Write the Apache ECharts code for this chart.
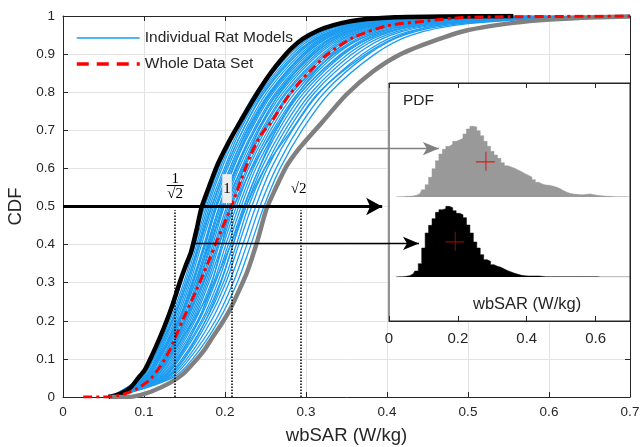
<!DOCTYPE html>
<html><head><meta charset="utf-8">
<script src="https://cdn.jsdelivr.net/npm/echarts@6/dist/echarts.min.js"></script>
<style>html,body{margin:0;padding:0;background:#fff}#c{width:644px;height:447px}</style>
</head><body><div id="c"></div>
<script>
// ---------- DATA ----------
const cdfLevels = [0, 0.05, 0.1, 0.2, 0.3, 0.4, 0.5, 0.6, 0.7, 0.8, 0.9, 0.95, 0.98, 1];
const blueCurves = [
  [0.058,0.095,0.109,0.130,0.146,0.160,0.175,0.192,0.212,0.238,0.276,0.308,0.353,0.454],
  [0.058,0.096,0.111,0.132,0.149,0.163,0.177,0.194,0.214,0.241,0.280,0.311,0.358,0.461],
  [0.058,0.097,0.112,0.134,0.151,0.165,0.179,0.196,0.217,0.244,0.283,0.315,0.362,0.467],
  [0.058,0.099,0.114,0.136,0.153,0.167,0.181,0.199,0.219,0.246,0.286,0.319,0.367,0.473],
  [0.059,0.100,0.115,0.138,0.155,0.169,0.184,0.201,0.222,0.249,0.290,0.323,0.371,0.479],
  [0.059,0.101,0.117,0.140,0.157,0.171,0.186,0.203,0.225,0.252,0.293,0.326,0.376,0.486],
  [0.059,0.102,0.118,0.142,0.159,0.174,0.188,0.206,0.227,0.255,0.296,0.330,0.380,0.492],
  [0.059,0.103,0.120,0.144,0.161,0.176,0.190,0.208,0.230,0.258,0.300,0.334,0.385,0.498],
  [0.059,0.105,0.122,0.145,0.163,0.178,0.193,0.210,0.232,0.260,0.303,0.338,0.389,0.505],
  [0.059,0.106,0.123,0.147,0.165,0.180,0.195,0.213,0.235,0.263,0.306,0.341,0.394,0.511],
  [0.059,0.107,0.125,0.149,0.167,0.182,0.197,0.215,0.237,0.266,0.310,0.345,0.398,0.517],
  [0.059,0.108,0.126,0.151,0.170,0.185,0.199,0.217,0.240,0.269,0.313,0.349,0.403,0.524],
  [0.060,0.110,0.128,0.153,0.172,0.187,0.202,0.220,0.242,0.272,0.316,0.353,0.407,0.530],
  [0.060,0.111,0.129,0.155,0.174,0.189,0.204,0.222,0.245,0.275,0.320,0.356,0.412,0.536],
  [0.060,0.112,0.131,0.157,0.176,0.191,0.206,0.224,0.247,0.277,0.323,0.360,0.416,0.542],
  [0.060,0.113,0.132,0.159,0.178,0.193,0.208,0.227,0.250,0.280,0.326,0.364,0.421,0.549],
  [0.060,0.115,0.134,0.161,0.180,0.196,0.211,0.229,0.253,0.283,0.330,0.368,0.425,0.555],
  [0.060,0.116,0.136,0.163,0.183,0.198,0.214,0.232,0.256,0.287,0.334,0.373,0.431,0.563],
  [0.060,0.118,0.138,0.166,0.186,0.201,0.217,0.235,0.259,0.291,0.338,0.378,0.437,0.572],
  [0.061,0.119,0.140,0.168,0.188,0.204,0.220,0.238,0.263,0.294,0.343,0.383,0.443,0.580],
  [0.061,0.121,0.142,0.171,0.191,0.207,0.223,0.242,0.266,0.298,0.347,0.388,0.449,0.589],
  [0.061,0.123,0.144,0.173,0.194,0.210,0.226,0.245,0.270,0.302,0.352,0.393,0.455,0.597],
  [0.061,0.125,0.147,0.176,0.198,0.214,0.229,0.249,0.274,0.307,0.357,0.399,0.463,0.608],
  [0.061,0.127,0.150,0.179,0.201,0.217,0.233,0.252,0.278,0.311,0.363,0.405,0.470,0.618],
  [0.061,0.129,0.153,0.183,0.205,0.222,0.238,0.257,0.283,0.317,0.370,0.413,0.479,0.631],
  [0.062,0.132,0.156,0.188,0.210,0.227,0.243,0.263,0.289,0.323,0.377,0.421,0.490,0.645],
  [0.062,0.135,0.160,0.192,0.215,0.232,0.248,0.268,0.295,0.330,0.385,0.430,0.500,0.660],
  [0.058,0.099,0.116,0.142,0.163,0.181,0.199,0.221,0.248,0.283,0.335,0.378,0.440,0.576],
  [0.061,0.123,0.142,0.167,0.184,0.196,0.207,0.223,0.242,0.268,0.307,0.340,0.389,0.503],
  [0.059,0.108,0.129,0.161,0.187,0.207,0.226,0.249,0.282,0.316,0.374,0.418,0.478,0.618],
  [0.060,0.113,0.129,0.151,0.166,0.179,0.193,0.210,0.230,0.257,0.296,0.328,0.373,0.475],
  [0.059,0.104,0.124,0.151,0.173,0.192,0.211,0.233,0.261,0.294,0.345,0.388,0.452,0.597],
  [0.061,0.127,0.149,0.176,0.195,0.210,0.224,0.242,0.263,0.291,0.332,0.365,0.418,0.538],
  [0.058,0.097,0.112,0.135,0.153,0.168,0.183,0.201,0.222,0.248,0.288,0.321,0.370,0.482],
  [0.059,0.104,0.119,0.143,0.160,0.175,0.189,0.206,0.228,0.256,0.298,0.333,0.384,0.500],
  [0.060,0.109,0.127,0.150,0.168,0.183,0.197,0.214,0.237,0.265,0.309,0.345,0.398,0.521]
];
const blackX = [0.056,0.070,0.083,0.093,0.101,0.110,0.120,0.128,0.136,0.144,0.151,0.158,0.165,0.171,0.180,0.190,0.200,0.210,0.220,0.232,0.245,0.257,0.268,0.282,0.296,0.315,0.334,0.355,0.375,0.410,0.470,0.556];
const blackP = [0,0.008,0.024,0.05,0.071,0.11,0.158,0.20,0.247,0.30,0.342,0.38,0.44,0.497,0.55,0.606,0.65,0.69,0.727,0.77,0.815,0.852,0.882,0.915,0.940,0.962,0.976,0.986,0.992,0.997,0.999,1.0];
const greyX = [0.058,0.080,0.095,0.110,0.132,0.148,0.161,0.175,0.185,0.196,0.206,0.217,0.227,0.240,0.251,0.263,0.276,0.288,0.301,0.321,0.350,0.383,0.416,0.457,0.498,0.556,0.601,0.659,0.700];
const greyP = [0,0,0.005,0.015,0.037,0.06,0.089,0.125,0.158,0.193,0.229,0.278,0.326,0.41,0.492,0.55,0.606,0.643,0.676,0.724,0.794,0.855,0.899,0.934,0.962,0.982,0.991,0.997,0.999];
const redX = [0.025,0.055,0.068,0.079,0.090,0.107,0.120,0.132,0.148,0.165,0.179,0.190,0.208,0.220,0.231,0.245,0.258,0.275,0.293,0.310,0.326,0.358,0.400,0.449,0.494,0.550,0.620,0.700];
const redP = [0,0,0.004,0.01,0.02,0.045,0.08,0.124,0.203,0.282,0.352,0.41,0.501,0.57,0.632,0.69,0.724,0.78,0.829,0.866,0.899,0.943,0.974,0.987,0.996,0.998,0.999,1.0];

const pdfBins = [0.02,0.03,0.04,0.05,0.06,0.07,0.08,0.09,0.10,0.11,0.12,0.13,0.14,0.15,0.16,0.17,0.18,0.19,0.20,0.21,0.22,0.23,0.24,0.25,0.26,0.27,0.28,0.29,0.30,0.31,0.32,0.33,0.34,0.35,0.36,0.37,0.38,0.39,0.40,0.41,0.42,0.43,0.44,0.45,0.46,0.47,0.48,0.49,0.50,0.51,0.52,0.53,0.54,0.55,0.56,0.57,0.58,0.59,0.60,0.61,0.62,0.63,0.64,0.65,0.66,0.67,0.68,0.69,0.70];
const greyPdf = [0,1,1,2,2,3,5,10,22,37,59,85,109,129,143,152,158,167,171,176,189,204,212,210,199,184,167,152,137,126,116,103,94,90,86,81,76,70,65,60,52,44,39,36,35,33,30,26,20,15,11,9,8,7,7,8,9,7,5,4,3,2,2,1,1,1,1,1,1];
const blackPdf = [0,1,1,2,4,9,18,40,87,132,155,175,194,202,205,212,208,199,191,187,178,156,132,105,87,67,52,47,37,32,29,24,19,15,11,8,5,4,3,3,3,3,2,1,1,1,1,1,1,1,1,1,1,1,1,1,1,1,1,0,0,0,0,0,0,0,0,0,0];
const greyMean = [0.280, 107];
const blackMean = [0.191, 107];

const refX = [0.138, 0.208, 0.293];
const refTop = 0.49;
const fracBar = [[0.128, 0.556], [0.149, 0.556]];
const refLabels = [
  {x: 0.1385, p: 0.571, text: '{n|1}'},
  {x: 0.1385, p: 0.532, text: '{n|√2}'},
  {x: 0.2025, p: 0.547, text: '{one|1}'},
  {x: 0.291, p: 0.545, text: '{n|√2}'}
];
// arrows: start point and tip
const arrows = [
  {from: [0, 0.5], to: [0.394, 0.5], color: '#000000', width: 3, size: [13, 16]},
  {from: [0.161, 0.403], to: [0.4395, 0.403], color: '#000000', width: 1.5, size: [10, 16]},
  {from: [0.301, 0.652], to: [0.464, 0.652], color: '#808080', width: 1.5, size: [10, 16]}
];

// ---------- CHART ----------
const FF = '"Liberation Sans", Arial, Helvetica, sans-serif';
const SERIF = '"Liberation Serif", "DejaVu Serif", serif';
const TXT = '#262626';
const BLUE = '#1c9cf0';
const chart = echarts.init(document.getElementById('c'), null, {renderer: 'canvas'});

const zip = (xs, ps) => xs.map((x, i) => [x, ps[i]]);
const series = [];
blueCurves.forEach(row => {
  series.push({
    type: 'line', name: 'Individual Rat Models', xAxisIndex: 0, yAxisIndex: 0,
    data: row.map((x, i) => [x, cdfLevels[i]]), symbol: 'none', smooth: 0.35,
    lineStyle: {color: BLUE, width: 1.3}, itemStyle: {color: BLUE}, silent: true, z: 2
  });
});
series.push({type: 'line', name: 'lowest', xAxisIndex: 0, yAxisIndex: 0, data: zip(blackX, blackP), symbol: 'none',
  smooth: 0.25, lineStyle: {color: '#000', width: 4.5}, silent: true, z: 3});
series.push({type: 'line', name: 'highest', xAxisIndex: 0, yAxisIndex: 0, data: zip(greyX, greyP), symbol: 'none',
  smooth: 0.25, lineStyle: {color: '#808080', width: 4.5}, silent: true, z: 3});
series.push({type: 'line', name: 'Whole Data Set', xAxisIndex: 0, yAxisIndex: 0, data: zip(redX, redP), symbol: 'none',
  smooth: 0.25, lineStyle: {color: '#ff0000', width: 3, type: [9, 4, 3, 4]}, itemStyle: {color: '#ff0000'}, silent: true, z: 4});

// dotted reference lines + labels
series.push({
  type: 'line', xAxisIndex: 0, yAxisIndex: 0, data: [], silent: true, z: 5,
  markLine: {
    silent: true, symbol: ['none', 'none'], animation: false, label: {show: false},
    data: refX.map(x => [{coord: [x, 0], lineStyle: {color: '#000', width: 1.5, type: [1.5, 1.5]}}, {coord: [x, refTop]}])
      .concat([[{coord: fracBar[0], lineStyle: {color: '#000', width: 1, type: 'solid'}}, {coord: fracBar[1]}]])
  },
  markPoint: {
    silent: true, symbol: 'rect', symbolSize: 1, itemStyle: {color: 'rgba(0,0,0,0)'},
    label: {
      show: true, position: 'inside', color: '#000', fontFamily: SERIF,
      rich: {
        n: {fontSize: 15, fontFamily: SERIF, color: '#000'},
        one: {fontSize: 15, fontFamily: SERIF, color: '#000', backgroundColor: '#ededed', padding: [7, 1, 7, 1]}
      }
    },
    data: refLabels.map(l => ({coord: [l.x, l.p], label: {formatter: l.text}}))
  }
});

// arrows (drawn above the inset)
arrows.forEach(a => {
  series.push({
    type: 'line', xAxisIndex: 0, yAxisIndex: 0, zlevel: 2, z: 10, silent: true,
    showSymbol: true, showAllSymbol: true,
    data: [{value: a.from, symbol: 'none'}, {value: a.to, symbol: 'arrow', symbolSize: a.size, symbolRotate: -90}],
    lineStyle: {color: a.color, width: a.width}, itemStyle: {color: a.color}
  });
});

// inset histograms
series.push({type: 'line', xAxisIndex: 4, yAxisIndex: 3, zlevel: 1, data: zip(pdfBins, greyPdf), step: 'middle', symbol: 'none',
  lineStyle: {width: 0.5, color: '#999999'}, areaStyle: {color: '#999999', opacity: 1}, silent: true, z: 3});
series.push({type: 'line', xAxisIndex: 5, yAxisIndex: 4, zlevel: 1, data: zip(pdfBins, blackPdf), step: 'middle', symbol: 'none',
  lineStyle: {width: 0.5, color: '#000000'}, areaStyle: {color: '#000000', opacity: 1}, silent: true, z: 3});
const plusPath = 'path://M0,9L18,9L18,10L0,10ZM9,0L10,0L10,18L9,18Z';
series.push({type: 'scatter', xAxisIndex: 4, yAxisIndex: 3, zlevel: 1, z: 6, data: [greyMean], symbol: plusPath, symbolSize: 19,
  itemStyle: {color: '#e00000'}, silent: true});
series.push({type: 'scatter', xAxisIndex: 5, yAxisIndex: 4, zlevel: 1, z: 6, data: [blackMean], symbol: plusPath, symbolSize: 19,
  itemStyle: {color: '#c00000'}, silent: true});

const axisLineStyle = {color: TXT, width: 1};
const option = {
  animation: false,
  backgroundColor: '#ffffff',
  textStyle: {fontFamily: FF},
  grid: [
    {left: 63, right: 14, top: 16, bottom: 50, outerBoundsMode: 'none', containLabel: false},
    {left: 389, top: 83, width: 241, height: 238, show: true, backgroundColor: '#ffffff', borderColor: TXT, borderWidth: 1, zlevel: 1, outerBoundsMode: 'none'},
    {left: 389, top: 117, width: 241, height: 80, zlevel: 1, outerBoundsMode: 'none'},
    {left: 389, top: 197, width: 241, height: 80, zlevel: 1, outerBoundsMode: 'none'}
  ],
  legend: {
    left: 70, top: 25, orient: 'vertical', itemWidth: 63, itemHeight: 12, itemGap: 10,
    textStyle: {color: TXT, fontSize: 15.5, fontFamily: FF}, selectedMode: false,
    data: [
      {name: 'Individual Rat Models', itemStyle: {opacity: 0}, lineStyle: {color: BLUE, width: 1.5, type: 'solid'}},
      {name: 'Whole Data Set', itemStyle: {opacity: 0}, lineStyle: {color: '#ff0000', width: 3.5, type: [12, 8]}}
    ]
  },
  xAxis: [
    {gridIndex: 0, type: 'value', min: 0, max: 0.7, interval: 0.1, position: 'bottom',
      axisLine: {show: true, onZero: false, lineStyle: axisLineStyle},
      axisTick: {show: true, inside: true, length: 5, lineStyle: axisLineStyle},
      axisLabel: {color: TXT, fontSize: 13.5, fontFamily: FF, margin: 8},
      splitLine: {show: true, lineStyle: {color: '#e3e3e3', width: 1}},
      name: 'wbSAR (W/kg)', nameLocation: 'middle', nameGap: 29,
      nameTextStyle: {color: TXT, fontSize: 18.5, fontFamily: FF}},
    {gridIndex: 0, type: 'value', min: 0, max: 0.7, interval: 0.1, position: 'top',
      axisLine: {show: true, onZero: false, lineStyle: axisLineStyle},
      axisTick: {show: true, inside: true, length: 5, lineStyle: axisLineStyle},
      axisLabel: {show: false}, splitLine: {show: false}},
    {gridIndex: 1, type: 'value', min: 0, max: 0.7, interval: 0.2, position: 'bottom', zlevel: 1,
      axisLine: {show: true, onZero: false, lineStyle: axisLineStyle},
      axisTick: {show: true, inside: true, length: 5, lineStyle: axisLineStyle},
      axisLabel: {color: TXT, fontSize: 15, fontFamily: FF, margin: 10, showMaxLabel: false},
      splitLine: {show: false}},
    {gridIndex: 1, type: 'value', min: 0, max: 0.7, interval: 0.2, position: 'top', zlevel: 1,
      axisLine: {show: true, onZero: false, lineStyle: axisLineStyle},
      axisTick: {show: true, inside: true, length: 5, lineStyle: axisLineStyle},
      axisLabel: {show: false}, splitLine: {show: false}},
    {gridIndex: 2, type: 'value', min: 0, max: 0.7, show: false, zlevel: 1},
    {gridIndex: 3, type: 'value', min: 0, max: 0.7, show: false, zlevel: 1}
  ],
  yAxis: [
    {gridIndex: 0, type: 'value', min: 0, max: 1, interval: 0.1, position: 'left',
      axisLine: {show: true, onZero: false, lineStyle: axisLineStyle},
      axisTick: {show: true, inside: true, length: 5, lineStyle: axisLineStyle},
      axisLabel: {color: TXT, fontSize: 13.5, fontFamily: FF, margin: 8},
      splitLine: {show: true, lineStyle: {color: '#e3e3e3', width: 1}},
      name: 'CDF', nameLocation: 'middle', nameGap: 36,
      nameTextStyle: {color: TXT, fontSize: 18.5, fontFamily: FF}},
    {gridIndex: 0, type: 'value', min: 0, max: 1, interval: 0.1, position: 'right',
      axisLine: {show: true, onZero: false, lineStyle: axisLineStyle},
      axisTick: {show: true, inside: true, length: 5, lineStyle: axisLineStyle},
      axisLabel: {show: false}, splitLine: {show: false}},
    {gridIndex: 1, type: 'value', min: 0, max: 1, show: false, zlevel: 1},
    {gridIndex: 2, type: 'value', min: 0, max: 240, show: false, zlevel: 1},
    {gridIndex: 3, type: 'value', min: 0, max: 240, show: false, zlevel: 1}
  ],
  graphic: [
    {type: 'text', zlevel: 1, z: 20, left: 403, top: 93,
      style: {text: 'PDF', fill: TXT, font: '15.5px ' + FF}},
    {type: 'text', zlevel: 1, z: 20, left: 473, top: 296,
      style: {text: 'wbSAR (W/kg)', fill: TXT, font: '16.5px ' + FF}}
  ],
  series: series
};
chart.setOption(option);
</script></body></html>
